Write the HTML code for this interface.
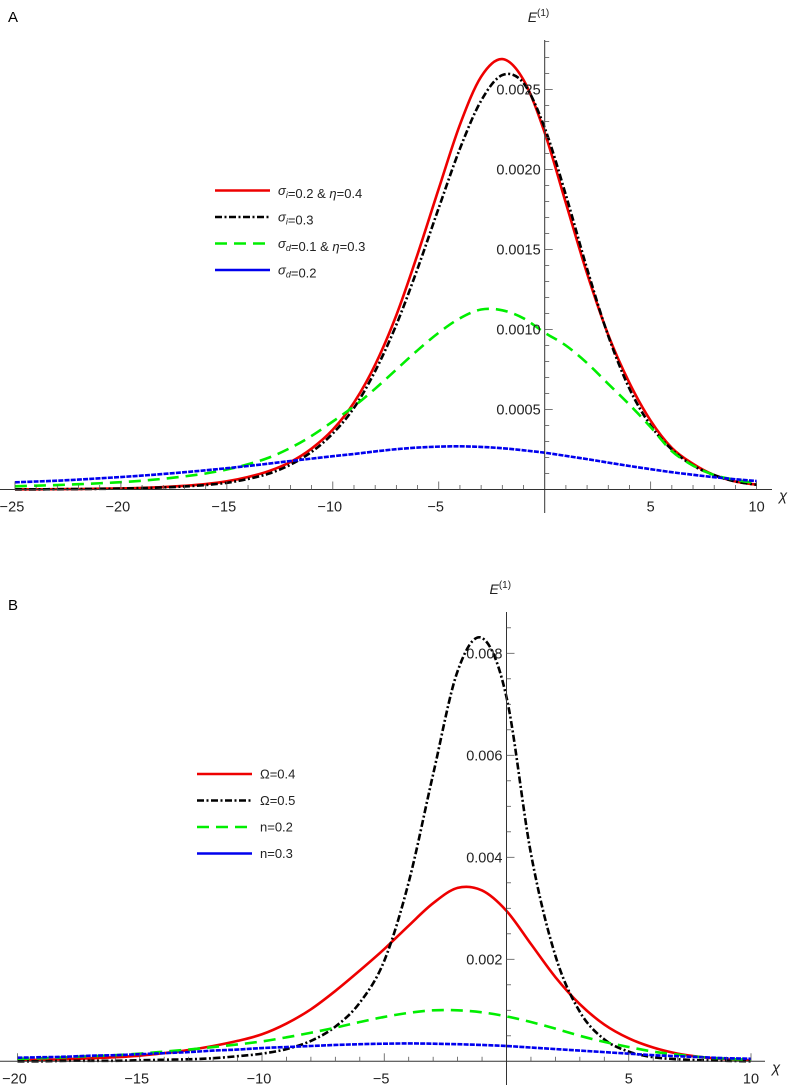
<!DOCTYPE html>
<html><head><meta charset="utf-8"><style>
html,body{margin:0;padding:0;background:#fff;}
svg{display:block;font-family:"Liberation Sans",sans-serif;}
</style></head><body>
<svg id="fig" width="797" height="1085" viewBox="0 0 797 1085">
<text x="8" y="22" font-size="15">A</text>
<text x="8" y="610" font-size="15">B</text>
</svg>
<script>
// Panel A data (E values ×1e-4), x from -25 to 10 step 1
const xA = [-25,-24,-23,-22,-21,-20,-19,-18,-17,-16,-15,-14,-13,-12,-11,-10,-9,-8,-7,-6,-5,-4,-3,-2,-1,0,1,2,3,4,5,6,7,8,9,10];
const redA = [0.01,0.013,0.02,0.03,0.05,0.07,0.10,0.15,0.23,0.34,0.51,0.78,1.16,1.72,2.56,3.74,5.43,7.8,10.9,14.7,18.8,22.8,25.8,26.9,25.6,22.3,17.9,13.5,9.66,6.66,4.3,2.6,1.6,0.9,0.5,0.3];
const blackA = [0.01,0.012,0.02,0.03,0.04,0.06,0.09,0.13,0.19,0.28,0.42,0.66,1.0,1.55,2.35,3.5,5.1,7.4,10.3,13.8,17.6,21.3,24.3,25.9,25.4,22.6,18.4,13.8,9.6,6.3,4.0,2.5,1.5,0.9,0.5,0.3];
const greenA = [0.2,0.24,0.28,0.33,0.39,0.46,0.55,0.67,0.82,1.0,1.25,1.58,2.0,2.6,3.35,4.25,5.2,6.3,7.5,8.7,9.8,10.7,11.25,11.2,10.7,9.8,9.0,7.9,6.6,5.3,3.9,2.4,1.5,0.9,0.6,0.4];
const blueA = [0.45,0.5,0.55,0.62,0.7,0.78,0.87,0.97,1.08,1.2,1.33,1.47,1.62,1.78,1.93,2.08,2.22,2.38,2.52,2.62,2.68,2.7,2.66,2.58,2.45,2.3,2.1,1.9,1.68,1.47,1.27,1.08,0.92,0.77,0.64,0.53];
const xTicksA = [-25,-20,-15,-10,-5,5,10];
const yTicksA = ["0.0005","0.0010","0.0015","0.0020","0.0025"];
// Panel B data (E values ×1e-3), x from -20 to 10 step 1
const xB = [-20,-19,-18,-17,-16,-15,-14,-13,-12,-11,-10,-9,-8,-7,-6,-5,-4,-3,-2,-1,0,1,2,3,4,5,6,7,8,9,10];
const redB = [0.02,0.03,0.04,0.06,0.08,0.11,0.16,0.22,0.3,0.4,0.53,0.74,1.02,1.38,1.78,2.2,2.66,3.1,3.4,3.35,2.95,2.3,1.65,1.12,0.72,0.45,0.27,0.15,0.08,0.04,0.02];
const blackB = [0,0,0.01,0.01,0.01,0.02,0.03,0.04,0.06,0.1,0.15,0.24,0.4,0.68,1.15,1.97,3.51,5.63,7.65,8.3,7.14,4.07,2.07,0.97,0.43,0.19,0.08,0.04,0.02,0.01,0];
const greenB = [0.05,0.06,0.08,0.1,0.12,0.15,0.19,0.23,0.28,0.33,0.39,0.47,0.56,0.66,0.77,0.87,0.95,1.0,1.0,0.96,0.88,0.77,0.64,0.5,0.38,0.28,0.19,0.13,0.08,0.05,0.03];
const blueB = [0.07,0.08,0.09,0.11,0.12,0.14,0.16,0.18,0.21,0.23,0.26,0.28,0.3,0.32,0.335,0.345,0.35,0.345,0.335,0.32,0.3,0.27,0.24,0.21,0.18,0.15,0.12,0.1,0.08,0.06,0.05];
const xTicksB = [-20,-15,-10,-5,5,10];
const yTicksB = ["0.002","0.004","0.006","0.008"];
const legendA = ["σ<sub>i</sub>=0.2 & η=0.4","σ<sub>i</sub>=0.3","σ<sub>d</sub>=0.1 & η=0.3","σ<sub>d</sub>=0.2"];
const legendB = ["Ω=0.4","Ω=0.5","n=0.2","n=0.3"];

const NS = "http://www.w3.org/2000/svg";
const svg = document.getElementById('fig');
function mk(tag, attrs, parent){const e=document.createElementNS(NS,tag);for(const k in attrs)e.setAttribute(k,attrs[k]);(parent||svg).appendChild(e);return e;}
const styles = [
 {c:'#ee0000',d:''},
 {c:'#000000',d:'7,2.5,2,2.5'},
 {c:'#00ee00',d:'12,7'},
 {c:'#0000ee',d:'5,1.2'}
];
function pathFrom(xs, ys, sx, sy){
  const p = xs.map((x,i)=>[sx(x),sy(ys[i])]);
  let d = 'M'+p[0][0].toFixed(2)+','+p[0][1].toFixed(2);
  for(let i=0;i<p.length-1;i++){
    const p0=p[Math.max(0,i-1)],p1=p[i],p2=p[i+1],p3=p[Math.min(p.length-1,i+2)];
    const c1x=p1[0]+(p2[0]-p0[0])/6,c1y=p1[1]+(p2[1]-p0[1])/6;
    const c2x=p2[0]-(p3[0]-p1[0])/6,c2y=p2[1]-(p3[1]-p1[1])/6;
    d+=' C'+c1x.toFixed(2)+','+c1y.toFixed(2)+' '+c2x.toFixed(2)+','+c2y.toFixed(2)+' '+p2[0].toFixed(2)+','+p2[1].toFixed(2);
  }
  return d;
}
function panel(cfg){
  const g = mk('g',{});
  
  
  const sx = x => cfg.x0 + x*cfg.kx;
  const sy = v => cfg.y0 - v*cfg.ky;
  const series=[cfg.r,cfg.k,cfg.g,cfg.b];
  const snames=['red','black','green','blue'];
  series.forEach((ys,i)=>{
    const p = mk('path',{d:pathFrom(cfg.xs,ys,sx,sy),fill:'none',stroke:styles[i].c,'stroke-width':2.6,'stroke-dasharray':styles[i].d},g);
    
    
  });
  const xa = mk('line',{x1:cfg.axL,x2:cfg.axR,y1:cfg.y0,y2:cfg.y0,stroke:'#333','stroke-width':1},g);
  
  
  const ya = mk('line',{x1:cfg.x0,x2:cfg.x0,y1:cfg.ayT,y2:cfg.ayB,stroke:'#333','stroke-width':1},g);
  
  
  for(let x=cfg.xmin;x<=cfg.xmax;x++){
    if(x===0)continue;
    const L = x%5===0?8:4.5;
    mk('line',{x1:sx(x),x2:sx(x),y1:cfg.y0,y2:cfg.y0-L,stroke:'#555','stroke-width':0.8},g);
  }
  cfg.xt.forEach(x=>{
    const t = mk('text',{x:sx(x)+(x<0?-3:0),y:cfg.y0+22,'font-size':14.5,'text-anchor':'middle',fill:'#222'},g);
    t.textContent = x<0?'\u2212'+(-x):String(x);
    
    
  });
  for(let i=1;i*cfg.minor<=cfg.ymaxv;i++){
    const v=i*cfg.minor;
    const major = i%cfg.per===0;
    mk('line',{x1:cfg.x0,x2:cfg.x0+(major?8:4.5),y1:sy(v),y2:sy(v),stroke:'#555','stroke-width':0.8},g);
  }
  cfg.yt.forEach((lab,i)=>{
    const v=(i+1)*cfg.minor*cfg.per;
    const t = mk('text',{x:cfg.x0-4,y:sy(v)+5,'font-size':14.5,'text-anchor':'end',fill:'#222'},g);
    t.textContent = lab;
    
    
  });
  const xl = mk('text',{x:cfg.axR+7,y:cfg.y0+11,'font-size':15,'font-style':'italic',fill:'#222'},g);
  xl.textContent='χ';
  
  
  const yl = mk('text',{x:cfg.x0-17,y:cfg.ayT-18,'font-size':14,'font-style':'italic',fill:'#222'},g);
  yl.innerHTML='E<tspan dy="-6" font-size="10" font-style="normal">(1)</tspan>';
  
  
  cfg.leg.forEach((lab,i)=>{
    const y = cfg.legY + i*cfg.legDy;
    const ln = mk('line',{x1:cfg.legX,x2:cfg.legX+55,y1:y,y2:y,stroke:styles[i].c,'stroke-width':2.6,'stroke-dasharray':i===3?'':styles[i].d},g);
    
    
    const t = mk('text',{x:cfg.legX+63,y:y+4.5,'font-size':13,fill:'#222'},g);
    t.innerHTML = lab.replace(/σ<sub>(.)<\/sub>/g,'<tspan font-style="italic">σ</tspan><tspan font-style="italic" font-size="9" dy="3">$1</tspan><tspan dy="-3"></tspan>').replace(/η/g,'<tspan font-style="italic">η</tspan>');
    
    
  });
}
panel({name:'panel-a',xs:xA,r:redA,k:blackA,g:greenA,b:blueA,x0:544.7,kx:21.19,y0:489.5,ky:16,
  axL:0,axR:772,ayT:40,ayB:513,xmin:-25,xmax:10,xt:xTicksA,minor:1,per:5,ymaxv:28.6,yt:yTicksA,
  leg:legendA,legX:215,legY:190.5,legDy:26.5});
panel({name:'panel-b',xs:xB,r:redB,k:blackB,g:greenB,b:blueB,x0:506.5,kx:24.45,y0:1061.3,ky:51,
  axL:0,axR:765,ayT:612,ayB:1085,xmin:-20,xmax:10,xt:xTicksB,minor:0.5,per:4,ymaxv:8.7,yt:yTicksB,
  leg:legendB,legX:197,legY:774,legDy:26.5});
</script>
</body></html>
